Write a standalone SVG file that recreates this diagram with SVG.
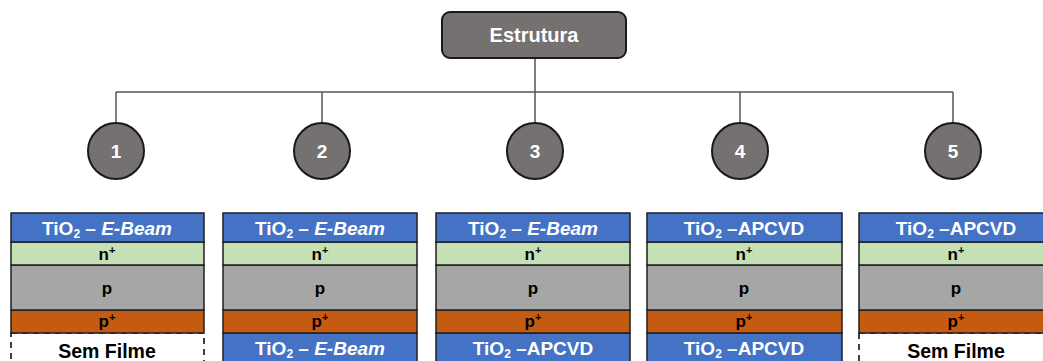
<svg xmlns="http://www.w3.org/2000/svg" width="1043" height="361" viewBox="0 0 1043 361">
<style>
.t{font-family:"Liberation Sans",Arial,sans-serif;font-weight:bold;text-anchor:middle}
.w{fill:#fff;font-size:19px}
.e{fill:#fff;font-size:20px}
.num{fill:#fff;font-size:19px}
.k{fill:#000;font-size:17px}
.sf{fill:#000;font-size:19.5px}
.blue{fill:#4472C4;stroke:#1f1f1f;stroke-width:1.5}
.green{fill:#C5E0B4;stroke:#1f1f1f;stroke-width:1.5}
.gray{fill:#A6A6A6;stroke:#1f1f1f;stroke-width:1.5}
.orange{fill:#C55A11;stroke:#1f1f1f;stroke-width:1.5}
.none{fill:#fff;stroke:#000;stroke-width:1.5;stroke-dasharray:6 5}
.node{fill:#767171;stroke:#1a1a1a;stroke-width:2}
.line{stroke:#555;stroke-width:1.5;fill:none}
</style>
<rect width="1043" height="361" fill="#fff"/>
<g id="connectors">
<line class="line" x1="535" y1="58" x2="535" y2="92"/>
<line class="line" x1="116" y1="92" x2="953" y2="92"/>
<line class="line" x1="116" y1="92" x2="116" y2="122"/>
<line class="line" x1="322" y1="92" x2="322" y2="122"/>
<line class="line" x1="535" y1="92" x2="535" y2="122"/>
<line class="line" x1="740" y1="92" x2="740" y2="122"/>
<line class="line" x1="953" y1="92" x2="953" y2="122"/>
</g>
<g id="root">
<rect class="node" x="442" y="12" width="184" height="46" rx="8"/>
<text class="t e" x="534" y="42">Estrutura</text>
</g>
<g id="n1"><circle class="node" cx="116" cy="151" r="28"/><text class="t num" x="116" y="158">1</text></g>
<g id="n2"><circle class="node" cx="322" cy="151" r="28"/><text class="t num" x="322" y="158">2</text></g>
<g id="n3"><circle class="node" cx="535" cy="151" r="28"/><text class="t num" x="535" y="158">3</text></g>
<g id="n4"><circle class="node" cx="740" cy="151" r="28"/><text class="t num" x="740" y="158">4</text></g>
<g id="n5"><circle class="node" cx="953" cy="151" r="28"/><text class="t num" x="953" y="158">5</text></g>

<g id="stack1">
<rect class="none" x="11" y="333" width="193" height="40"/>
<rect class="orange" x="11" y="310" width="193" height="23"/>
<rect class="gray" x="11" y="265" width="193" height="45"/>
<rect class="green" x="11" y="242" width="193" height="23"/>
<rect class="blue" x="11" y="213" width="193" height="29"/>
<text class="t w" x="107" y="235">TiO<tspan font-size="12" dy="3">2</tspan><tspan dy="-3"> – </tspan><tspan font-style="italic">E-Beam</tspan></text>
<text class="t k" x="107" y="260">n<tspan font-size="11" dy="-6">+</tspan></text>
<text class="t k" x="107" y="294">p</text>
<text class="t k" x="107" y="327">p<tspan font-size="11" dy="-6">+</tspan></text>
<text class="t sf" x="107" y="358">Sem Filme</text>
</g>

<g id="stack2">
<rect class="blue" x="223" y="333" width="194" height="40"/>
<rect class="orange" x="223" y="310" width="194" height="23"/>
<rect class="gray" x="223" y="265" width="194" height="45"/>
<rect class="green" x="223" y="242" width="194" height="23"/>
<rect class="blue" x="223" y="213" width="194" height="29"/>
<text class="t w" x="320" y="235">TiO<tspan font-size="12" dy="3">2</tspan><tspan dy="-3"> – </tspan><tspan font-style="italic">E-Beam</tspan></text>
<text class="t k" x="320" y="260">n<tspan font-size="11" dy="-6">+</tspan></text>
<text class="t k" x="320" y="294">p</text>
<text class="t k" x="320" y="327">p<tspan font-size="11" dy="-6">+</tspan></text>
<text class="t w" x="320" y="355">TiO<tspan font-size="12" dy="3">2</tspan><tspan dy="-3"> – </tspan><tspan font-style="italic">E-Beam</tspan></text>
</g>

<g id="stack3">
<rect class="blue" x="436" y="333" width="194" height="40"/>
<rect class="orange" x="436" y="310" width="194" height="23"/>
<rect class="gray" x="436" y="265" width="194" height="45"/>
<rect class="green" x="436" y="242" width="194" height="23"/>
<rect class="blue" x="436" y="213" width="194" height="29"/>
<text class="t w" x="533" y="235">TiO<tspan font-size="12" dy="3">2</tspan><tspan dy="-3"> – </tspan><tspan font-style="italic">E-Beam</tspan></text>
<text class="t k" x="533" y="260">n<tspan font-size="11" dy="-6">+</tspan></text>
<text class="t k" x="533" y="294">p</text>
<text class="t k" x="533" y="327">p<tspan font-size="11" dy="-6">+</tspan></text>
<text class="t w" x="533" y="355">TiO<tspan font-size="12" dy="3">2</tspan><tspan dy="-3"> –APCVD</tspan></text>
</g>

<g id="stack4">
<rect class="blue" x="647" y="333" width="195" height="40"/>
<rect class="orange" x="647" y="310" width="195" height="23"/>
<rect class="gray" x="647" y="265" width="195" height="45"/>
<rect class="green" x="647" y="242" width="195" height="23"/>
<rect class="blue" x="647" y="213" width="195" height="29"/>
<text class="t w" x="744" y="235">TiO<tspan font-size="12" dy="3">2</tspan><tspan dy="-3"> –APCVD</tspan></text>
<text class="t k" x="744" y="260">n<tspan font-size="11" dy="-6">+</tspan></text>
<text class="t k" x="744" y="294">p</text>
<text class="t k" x="744" y="327">p<tspan font-size="11" dy="-6">+</tspan></text>
<text class="t w" x="744" y="355">TiO<tspan font-size="12" dy="3">2</tspan><tspan dy="-3"> –APCVD</tspan></text>
</g>

<g id="stack5">
<rect class="none" x="859" y="333" width="194" height="40"/>
<rect class="orange" x="859" y="310" width="194" height="23"/>
<rect class="gray" x="859" y="265" width="194" height="45"/>
<rect class="green" x="859" y="242" width="194" height="23"/>
<rect class="blue" x="859" y="213" width="194" height="29"/>
<text class="t w" x="956" y="235">TiO<tspan font-size="12" dy="3">2</tspan><tspan dy="-3"> –APCVD</tspan></text>
<text class="t k" x="956" y="260">n<tspan font-size="11" dy="-6">+</tspan></text>
<text class="t k" x="956" y="294">p</text>
<text class="t k" x="956" y="327">p<tspan font-size="11" dy="-6">+</tspan></text>
<text class="t sf" x="956" y="358">Sem Filme</text>
</g>
</svg>
